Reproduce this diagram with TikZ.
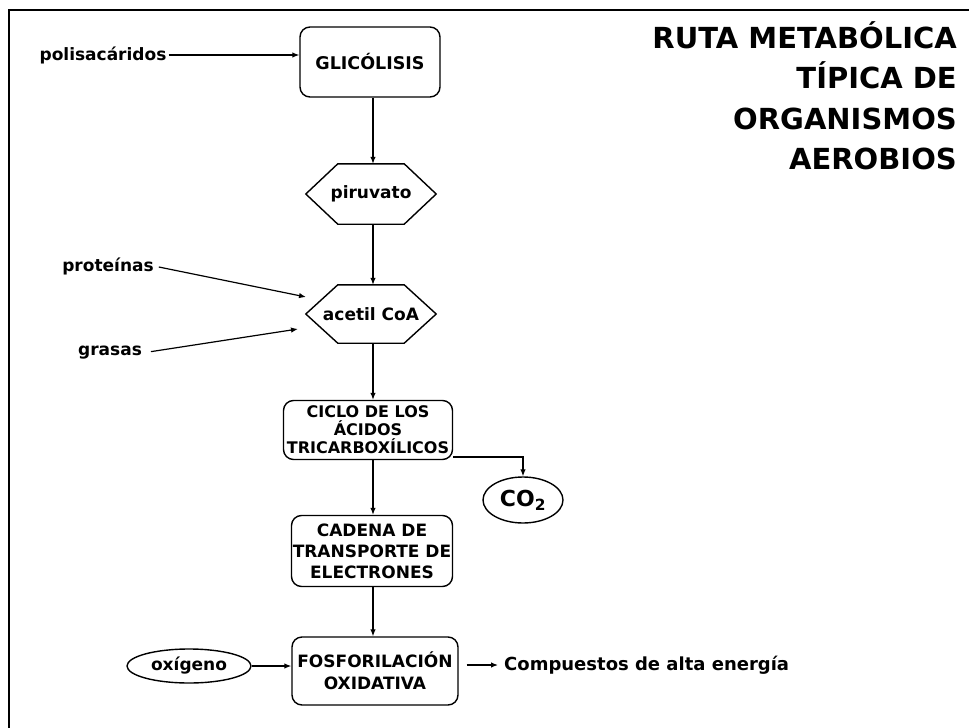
\documentclass[tikz,border=0pt]{standalone}
\usepackage{fontspec}
\setmainfont{DejaVu Sans}
\usetikzlibrary{arrows.meta,calc,shapes.geometric}
\begin{document}
\begin{tikzpicture}[x=1pt,y=-1pt,
  every node/.style={font=\bfseries},
  lbl/.style={font=\fontsize{17}{20}\selectfont\bfseries, inner sep=0pt},
  rbox/.style={draw, line width=1.4pt, rounded corners=10pt, align=center, inner sep=0pt},
  hexnode/.style={inner sep=0pt, font=\fontsize{17}{20}\selectfont\bfseries},
  ellnode/.style={draw, ellipse, line width=1.4pt, inner sep=0pt},
  conn/.style={line width=1.2pt, -{Latex[length=7pt,width=5.5pt]}},
  frame/.style={line width=2pt}]
\useasboundingbox (0,0) rectangle (969,728);
\draw[frame] (9,728) -- (9,10) -- (969,10);
\coordinate (spine) at (373,0);

% title
\node[anchor=north east, align=right, inner sep=0pt,
      font=\fontsize{29}{40.5}\selectfont\bfseries] (title) at (957,21)
  {RUTA METABÓLICA\\TÍPICA DE \\ORGANISMOS\\AEROBIOS};

% nodes
\node[lbl] (pol) at (103,55) {polisacáridos};
\node[rbox, minimum width=140pt, minimum height=70pt,
      font=\fontsize{17.5}{20}\selectfont\bfseries] (gli) at (370,62) {GLICÓLISIS};

\node[hexnode, minimum width=130pt, minimum height=60pt] (pir) at (371,194) {piruvato};
\node[hexnode, minimum width=130pt, minimum height=58pt] (ace) at (371,314) {acetil CoA};
\foreach \h in {pir,ace}{
  \draw[line width=1.4pt] ([xshift=32pt]\h.north west) -- ([xshift=-32pt]\h.north east)
    -- (\h.east) -- ([xshift=-32pt]\h.south east) -- ([xshift=32pt]\h.south west)
    -- (\h.west) -- cycle;
}

\node[lbl] (prot) at (108,266) {proteínas};
\node[lbl] (gras) at (110,353) {grasas};
\coordinate (protend) at (306,297);
\coordinate (grasend) at (298,329);

\node[rbox, minimum width=169pt, minimum height=59pt,
      font=\fontsize{16}{18}\selectfont\bfseries] (cic) at (368,430)
  {CICLO DE LOS\\ÁCIDOS\\TRICARBOXÍLICOS};
\node[ellnode, minimum width=80pt, minimum height=46pt,
      font=\fontsize{22}{24}\selectfont\bfseries] (co2) at (523,500) {CO$_{\mathbf{2}}$};
\coordinate (cicout) at (453,457);
\coordinate (cocorner) at (co2.north |- cicout);

\node[rbox, minimum width=161pt, minimum height=71pt,
      font=\fontsize{17}{21}\selectfont\bfseries] (cad) at (372,551)
  {CADENA DE\\TRANSPORTE DE\\ELECTRONES};
\node[rbox, minimum width=166pt, minimum height=68pt,
      font=\fontsize{17}{22}\selectfont\bfseries] (fos) at (375,671)
  {FOSFORILACIÓN\\OXIDATIVA};
\node[ellnode, minimum width=124pt, minimum height=34pt,
      font=\fontsize{17}{20}\selectfont\bfseries] (oxi) at (189,666) {oxígeno};
\node[lbl, anchor=west, font=\fontsize{18}{20}\selectfont\bfseries] (comp) at (504,665) {Compuestos de alta energía};

% connectors
\draw[conn, shorten <=2pt] (pol.east) -- (pol.east -| gli.west);
\draw[conn] (gli.south -| spine) -- (pir.north -| spine);
\draw[conn] (pir.south -| spine) -- (ace.north -| spine);
\draw[conn, shorten <=5pt] (prot.east) -- (protend);
\draw[conn, shorten <=9pt] (gras.east) -- (grasend);
\draw[conn] (ace.south -| spine) -- (cic.north -| spine);
\draw[conn] (cicout) -- (cocorner) -- (co2.north);
\draw[conn] (cic.south -| spine) -- (cad.north -| spine);
\draw[conn] (cad.south -| spine) -- (fos.north -| spine);
\draw[conn] (oxi.east) -- (fos.west |- oxi.east);
\draw[conn, shorten <=8pt, shorten >=6pt] (fos.east |- comp.west) -- (comp.west);
\end{tikzpicture}
\end{document}
